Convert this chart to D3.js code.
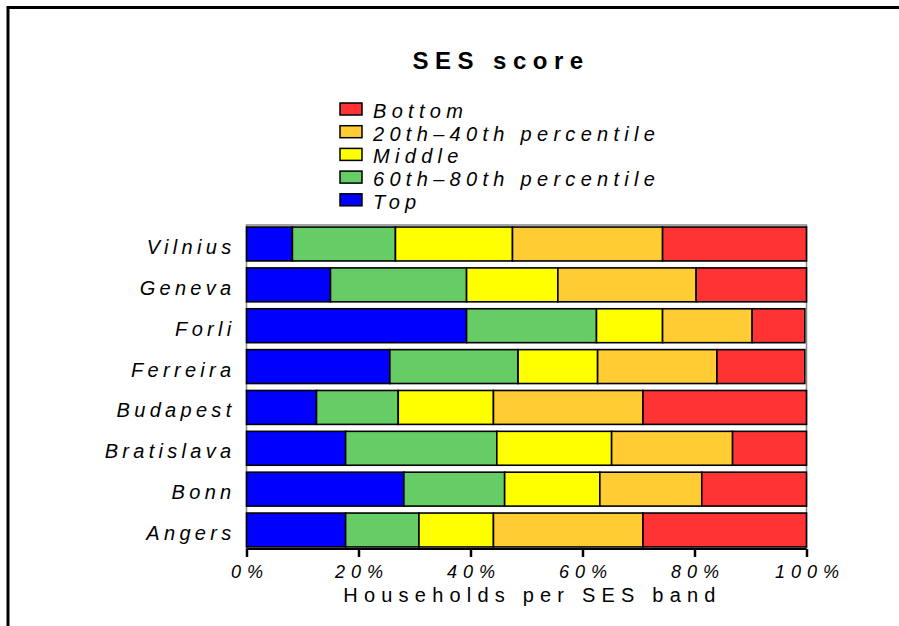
<!DOCTYPE html>
<html>
<head>
<meta charset="utf-8">
<script src="https://cdn.jsdelivr.net/npm/d3@7"></script>
<style>
  body { margin: 0; background: #fff; }
  text { font-family: "Liberation Sans", Arial, sans-serif; }
</style>
</head>
<body>
<div id="chart"></div>
<script>
// Cities, top to bottom
var cities = ["Vilnius", "Geneva", "Forli", "Ferreira", "Budapest", "Bratislava", "Bonn", "Angers"];

// Share of households (%) per SES band, same order as cities
var topBand    = [8.2, 15.0, 39.3, 25.6, 12.5, 17.7, 28.1, 17.7];
var band60_80  = [18.4, 24.3, 23.2, 22.9, 14.6, 27.0, 18.0, 13.1];
var middleBand = [20.9, 16.3, 11.8, 14.2, 17.0, 20.5, 17.0, 13.3];
var band20_40  = [26.8, 24.7, 16.0, 21.3, 26.7, 21.6, 18.2, 26.7];
var bottomBand = [25.7, 19.7, 9.4, 15.7, 29.2, 13.2, 18.7, 29.2];

var bandNames = ["Top", "60th\u201380th percentile", "Middle", "20th\u201340th percentile", "Bottom"];
var bandColors = ["#0000ff", "#66cc66", "#ffff00", "#ffcc33", "#ff3333"];
var xTicks = [0, 20, 40, 60, 80, 100];

var svgWidth = 899, svgHeight = 626;
var margin = { top: 225, left: 246.5, right: 92.5, bottom: 77 };
var width = svgWidth - margin.left - margin.right;
var height = svgHeight - margin.top - margin.bottom;

var svg = d3.select("#chart")
    .append("svg")
    .attr("width", svgWidth)
    .attr("height", svgHeight);

// Outer frame (only top and left show in the window)
svg.append("rect")
    .attr("x", 8).attr("y", 7.5)
    .attr("width", 1000).attr("height", 1000)
    .attr("fill", "none")
    .attr("stroke", "#000")
    .attr("stroke-width", 3);

var chartGroup = svg.append("g")
    .attr("transform", `translate(${margin.left}, ${margin.top})`);

var xScale = d3.scaleLinear().domain([0, 100]).range([0, width]);
var yScale = d3.scaleBand().domain(cities).range([0, height])
    .paddingInner(0.17).paddingOuter(0.05);

// Stack the bands
var rows = cities.map(function(c, i) {
    return { city: c, b0: topBand[i], b1: band60_80[i], b2: middleBand[i], b3: band20_40[i], b4: bottomBand[i] };
});
var stack = d3.stack().keys(["b0", "b1", "b2", "b3", "b4"]);
var series = stack(rows);

// Plot frame
chartGroup.append("rect")
    .attr("x", 0).attr("y", 0)
    .attr("width", width).attr("height", height)
    .attr("fill", "none")
    .attr("stroke", "#888")
    .attr("stroke-width", 1.5);

chartGroup.selectAll("g.band")
    .data(series)
    .enter()
    .append("g")
    .attr("class", "band")
    .attr("fill", (d, i) => bandColors[i])
    .selectAll("rect")
    .data(d => d)
    .enter()
    .append("rect")
    .attr("x", d => xScale(d[0]))
    .attr("y", d => yScale(d.data.city))
    .attr("width", d => xScale(d[1]) - xScale(d[0]))
    .attr("height", yScale.bandwidth())
    .attr("stroke", "#000")
    .attr("stroke-width", 1.6);

// X axis
var xAxis = d3.axisBottom(xScale)
    .tickValues(xTicks)
    .tickSize(8)
    .tickFormat(d => d + "%");

var xg = chartGroup.append("g")
    .attr("transform", `translate(0, ${height})`)
    .call(xAxis);
xg.select(".domain").attr("stroke-width", 2).attr("d", `M0,0H${width}`);
xg.selectAll(".tick line").attr("stroke-width", 2.5);
xg.selectAll(".tick text")
    .attr("y", 16)
    .attr("dx", "3px")
    .attr("font-size", "18px")
    .attr("font-style", "italic")
    .attr("letter-spacing", "6px")
    .attr("fill", "#000");

// Y labels
chartGroup.append("g").selectAll("text")
    .data(cities)
    .enter()
    .append("text")
    .attr("x", -11)
    .attr("y", d => yScale(d) + yScale.bandwidth() / 2)
    .attr("dy", "0.5em")
    .attr("text-anchor", "end")
    .attr("font-size", "20px")
    .attr("font-style", "italic")
    .attr("letter-spacing", "4.3px")
    .text(d => d);

// Axis title
chartGroup.append("text")
    .attr("x", width / 2 + 6)
    .attr("y", height + 53)
    .attr("text-anchor", "middle")
    .attr("font-size", "20px")
    .attr("letter-spacing", "6.2px")
    .text("Households per SES band");

// Title
svg.append("text")
    .attr("x", 501)
    .attr("y", 69)
    .attr("text-anchor", "middle")
    .attr("font-size", "24px")
    .attr("font-weight", "bold")
    .attr("letter-spacing", "6.5px")
    .text("SES score");

// Legend (Bottom first)
var legendOrder = [4, 3, 2, 1, 0];
var legend = svg.append("g").selectAll("g")
    .data(legendOrder)
    .enter()
    .append("g")
    .attr("transform", (d, i) => `translate(340, ${103 + i * 22.7})`);

legend.append("rect")
    .attr("width", 22).attr("height", 12)
    .attr("fill", d => bandColors[d])
    .attr("stroke", "#000")
    .attr("stroke-width", 1.5);

legend.append("text")
    .attr("x", 33)
    .attr("y", 15)
    .attr("font-size", "20px")
    .attr("font-style", "italic")
    .attr("letter-spacing", "5.3px")
    .text(d => bandNames[d]);
</script>
</body>
</html>
